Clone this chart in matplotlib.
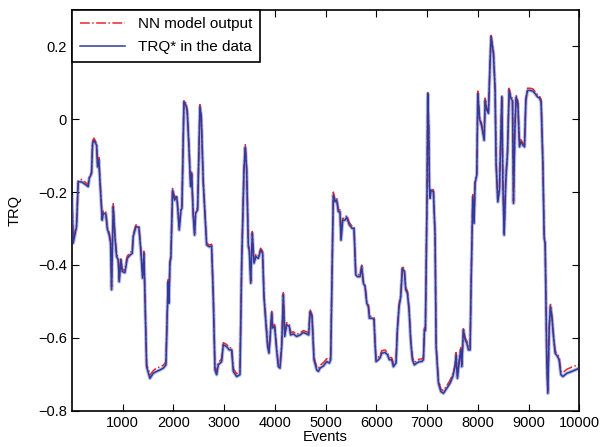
import matplotlib
matplotlib.use("Agg")
import matplotlib.pyplot as plt

# events (x) shared by both series
events = [0, 26, 92, 125, 191, 256, 322, 342, 388, 408, 434, 487, 506, 532, 552, 598, 618, 670, 697, 736,
          763, 782, 802, 815, 848, 881, 914, 933, 966, 992, 1045, 1091, 1144, 1190, 1209, 1262, 1321, 1361, 1394, 1420,
          1473, 1538, 1604, 1670, 1735, 1801, 1854, 1880, 1900, 1913, 1933, 1952, 1985, 2025, 2064, 2077, 2116, 2150, 2169, 2209,
          2248, 2274, 2307, 2340, 2360, 2393, 2419, 2439, 2478, 2524, 2550, 2590, 2623, 2656, 2708, 2754, 2787, 2820, 2853, 2886,
          2952, 2984, 3050, 3103, 3149, 3182, 3248, 3313, 3347, 3392, 3418, 3445, 3478, 3497, 3525, 3556, 3589, 3628, 3675, 3721,
          3760, 3786, 3826, 3859, 3885, 3905, 3938, 3957, 3997, 4036, 4069, 4102, 4135, 4168, 4194, 4234, 4286, 4312, 4365, 4431,
          4497, 4562, 4628, 4668, 4694, 4733, 4772, 4826, 4859, 4891, 4957, 5023, 5075, 5101, 5127, 5153, 5186, 5220, 5252, 5285,
          5305, 5338, 5384, 5417, 5469, 5528, 5561, 5595, 5627, 5680, 5713, 5745, 5778, 5812, 5844, 5864, 5910, 5955, 5975, 5995,
          6041, 6074, 6107, 6173, 6219, 6257, 6304, 6337, 6389, 6416, 6449, 6482, 6514, 6554, 6580, 6613, 6646, 6679, 6712, 6751,
          6797, 6850, 6896, 6929, 6949, 6968, 7000, 7014, 7034, 7047, 7060, 7080, 7126, 7159, 7179, 7225, 7272, 7324, 7390, 7455,
          7508, 7553, 7573, 7599, 7638, 7665, 7685, 7717, 7750, 7783, 7816, 7849, 7868, 7902, 7927, 7947, 7981, 8001, 8034, 8080,
          8126, 8146, 8178, 8211, 8243, 8263, 8309, 8342, 8361, 8395, 8427, 8475, 8494, 8520, 8553, 8586, 8618, 8651, 8685, 8704,
          8731, 8757, 8790, 8823, 8849, 8889, 8922, 8948, 8981, 9034, 9086, 9131, 9178, 9217, 9249, 9283, 9309, 9328, 9361, 9381,
          9407, 9433, 9466, 9492, 9525, 9572, 9604, 9638, 9678, 9756, 9855, 9954, 10000]

trq_data = [-0.21, -0.34, -0.295, -0.172, -0.172, -0.178, -0.185, -0.163, -0.149, -0.067, -0.058, -0.071, -0.131, -0.112, -0.167, -0.277, -0.258, -0.26, -0.30, -0.318,
            -0.34, -0.468, -0.322, -0.24, -0.322, -0.377, -0.386, -0.446, -0.386, -0.418, -0.421, -0.382, -0.373, -0.368, -0.322, -0.295, -0.297, -0.364, -0.436, -0.368,
            -0.679, -0.711, -0.697, -0.692, -0.688, -0.683, -0.674, -0.532, -0.446, -0.505, -0.395, -0.38, -0.195, -0.222, -0.213, -0.227, -0.304, -0.249, -0.245, 0.047,
            0.038, 0.02, -0.076, -0.185, -0.149, -0.268, -0.318, -0.258, -0.249, 0.034, 0.006, -0.176, -0.263, -0.345, -0.35, -0.348, -0.487, -0.688, -0.701, -0.674,
            -0.665, -0.619, -0.624, -0.633, -0.633, -0.692, -0.706, -0.701, -0.395, -0.14, -0.076, -0.14, -0.35, -0.359, -0.45, -0.313, -0.395, -0.377, -0.382, -0.359,
            -0.368, -0.487, -0.56, -0.624, -0.642, -0.605, -0.532, -0.573, -0.569, -0.633, -0.679, -0.683, -0.624, -0.482, -0.596, -0.564, -0.569, -0.592, -0.589, -0.596,
            -0.592, -0.585, -0.589, -0.592, -0.528, -0.541, -0.66, -0.688, -0.692, -0.683, -0.677, -0.665, -0.669, -0.66, -0.441, -0.208, -0.227, -0.222, -0.254, -0.254,
            -0.332, -0.277, -0.277, -0.269, -0.29, -0.30, -0.30, -0.427, -0.432, -0.432, -0.405, -0.45, -0.459, -0.505, -0.514, -0.546, -0.546, -0.549, -0.614, -0.665,
            -0.66, -0.655, -0.642, -0.64, -0.646, -0.66, -0.66, -0.679, -0.669, -0.578, -0.514, -0.487, -0.409, -0.418, -0.468, -0.477, -0.523, -0.61, -0.66, -0.674,
            -0.669, -0.665, -0.665, -0.66, -0.578, -0.58, -0.213, 0.07, -0.03, -0.185, -0.217, -0.195, -0.199, -0.322, -0.624, -0.724, -0.747, -0.752, -0.738, -0.724,
            -0.706, -0.679, -0.647, -0.711, -0.66, -0.633, -0.679, -0.578, -0.605, -0.614, -0.633, -0.633, -0.459, -0.213, -0.286, -0.176, -0.153, 0.07, 0.002, -0.021,
            -0.058, 0.052, 0.025, 0.016, 0.157, 0.226, 0.18, 0.079, -0.121, -0.227, -0.195, 0.061, -0.167, -0.318, -0.167, -0.094, 0.079, 0.058, 0.05, -0.231,
            -0.03, 0.061, 0.043, -0.076, -0.062, -0.071, -0.076, 0.052, 0.079, 0.079, 0.077, 0.07, 0.061, 0.058, 0.047, -0.121, -0.327, -0.34, -0.669, -0.752,
            -0.578, -0.514, -0.55, -0.596, -0.642, -0.651, -0.66, -0.701, -0.706, -0.697, -0.692, -0.686, -0.683]

nn_output = [-0.20, -0.33, -0.29, -0.168, -0.165, -0.172, -0.18, -0.158, -0.145, -0.06, -0.052, -0.066, -0.125, -0.105, -0.16, -0.27, -0.25, -0.255, -0.295, -0.312,
             -0.335, -0.46, -0.315, -0.232, -0.316, -0.37, -0.38, -0.44, -0.38, -0.412, -0.415, -0.376, -0.366, -0.362, -0.316, -0.29, -0.292, -0.358, -0.43, -0.362,
             -0.672, -0.702, -0.69, -0.682, -0.68, -0.675, -0.666, -0.525, -0.44, -0.5, -0.39, -0.374, -0.19, -0.217, -0.208, -0.222, -0.298, -0.244, -0.24, 0.053,
             0.044, 0.026, -0.07, -0.18, -0.143, -0.262, -0.312, -0.252, -0.244, 0.04, 0.012, -0.17, -0.257, -0.34, -0.345, -0.343, -0.48, -0.68, -0.693, -0.667,
             -0.658, -0.613, -0.618, -0.627, -0.627, -0.684, -0.698, -0.693, -0.39, -0.134, -0.07, -0.135, -0.345, -0.353, -0.444, -0.308, -0.39, -0.371, -0.376, -0.354,
             -0.362, -0.48, -0.553, -0.617, -0.635, -0.6, -0.527, -0.567, -0.563, -0.627, -0.672, -0.676, -0.618, -0.476, -0.59, -0.558, -0.563, -0.586, -0.583, -0.59,
             -0.586, -0.58, -0.583, -0.586, -0.522, -0.536, -0.653, -0.68, -0.684, -0.675, -0.668, -0.657, -0.66, -0.652, -0.435, -0.2, -0.221, -0.216, -0.248, -0.249,
             -0.326, -0.272, -0.271, -0.264, -0.284, -0.294, -0.295, -0.421, -0.426, -0.427, -0.4, -0.445, -0.453, -0.5, -0.508, -0.54, -0.541, -0.544, -0.608, -0.658,
             -0.653, -0.648, -0.635, -0.633, -0.64, -0.654, -0.654, -0.672, -0.662, -0.572, -0.508, -0.482, -0.403, -0.412, -0.462, -0.471, -0.517, -0.604, -0.653, -0.667,
             -0.662, -0.658, -0.658, -0.653, -0.572, -0.575, -0.207, 0.076, -0.024, -0.18, -0.211, -0.19, -0.194, -0.316, -0.618, -0.717, -0.74, -0.745, -0.731, -0.716,
             -0.699, -0.673, -0.64, -0.704, -0.654, -0.627, -0.673, -0.572, -0.6, -0.608, -0.626, -0.627, -0.453, -0.207, -0.28, -0.17, -0.147, 0.077, 0.008, -0.015,
             -0.052, 0.058, 0.031, 0.022, 0.162, 0.23, 0.185, 0.085, -0.115, -0.221, -0.19, 0.066, -0.161, -0.312, -0.161, -0.088, 0.085, 0.064, 0.056, -0.225,
             -0.024, 0.066, 0.049, -0.07, -0.056, -0.065, -0.07, 0.058, 0.085, 0.085, 0.083, 0.076, 0.067, 0.064, 0.053, -0.115, -0.32, -0.334, -0.662, -0.745,
             -0.572, -0.508, -0.544, -0.59, -0.636, -0.644, -0.653, -0.692, -0.695, -0.686, -0.68, -0.675, -0.672]

plt.rcParams['font.family'] = ['Liberation Sans', 'DejaVu Sans']
plt.rcParams['font.size'] = 10.5

fig = plt.figure(figsize=(6.04, 4.47), dpi=100)
ax = fig.add_axes([0.119, 0.081, 0.84, 0.897])

# light halo under the data line (dense jitter in the original)
ax.plot(events, trq_data, color='#b4bbe2', lw=2.6, zorder=1)
ax.plot(events, nn_output, color='#e8282c', lw=1.1, ls='-.', label='NN model output', zorder=2)
ax.plot(events, trq_data, color='#2e3a9c', lw=1.1, label='TRQ* in the data', zorder=3)

ax.set_xlim(0, 10000)
ax.set_ylim(-0.8, 0.3)
ax.set_xticks([1000, 2000, 3000, 4000, 5000, 6000, 7000, 8000, 9000, 10000])
ax.set_yticks([-0.8, -0.6, -0.4, -0.2, 0, 0.2])
ax.set_yticklabels(['\u22120.8', '\u22120.6', '\u22120.4', '\u22120.2', '0', '0.2'])
ax.tick_params(direction='in', top=True, right=True, length=5, width=0.8, labelsize=10.5, colors='black')
for s in ax.spines.values():
    s.set_linewidth(1.2)

ax.set_xlabel('Events', fontsize=10.5, labelpad=0)
ax.set_ylabel('TRQ', fontsize=10.5, labelpad=12)

leg = ax.legend(loc='upper left', borderaxespad=0, fancybox=False, framealpha=1,
                edgecolor='black', fontsize=11, handlelength=3.0, borderpad=0.5, labelspacing=0.55)
leg.get_frame().set_linewidth(1.2)

fig.savefig('out.png', dpi=100)
